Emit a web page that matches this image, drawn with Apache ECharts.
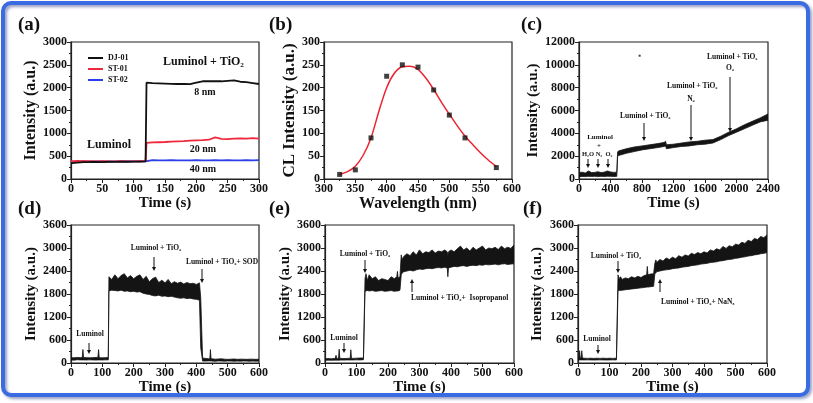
<!DOCTYPE html>
<html><head><meta charset="utf-8">
<script src="https://cdn.jsdelivr.net/npm/echarts@6/dist/echarts.min.js"></script>
<style>html,body{margin:0;padding:0;background:#fff}#c{width:813px;height:403px}</style>
</head><body><div id="c"></div>
<script>
// ---------- DATA ----------
// (a)
const aTime = [0,5,10,15,20,30,40,50,60,70,80,90,100,110,119,120.5,130,140,150,160,170,180,190,200,210,220,230,240,250,260,270,280,290,300];
const aDJ01 = [340,355,360,365,370,372,375,370,378,375,380,378,382,380,385,2110,2100,2095,2090,2085,2080,2080,2078,2110,2140,2140,2145,2140,2150,2160,2130,2120,2100,2080];
const aST01 = [390,392,395,393,390,392,388,390,385,388,390,388,386,389,392,790,800,805,810,820,825,830,840,845,850,860,910,880,875,885,890,885,895,885];
const aST02 = [380,382,385,383,385,380,383,385,382,384,386,383,385,384,386,410,412,408,410,412,410,408,410,412,410,409,411,410,412,410,409,411,410,412];
const aNames = ['DJ-01','ST-01','ST-02'];
// (b)
const bWave = [325,350,375,400,425,450,475,500,525,575];
const bCL = [10,20,90,225,250,245,195,140,90,25];
const bFitWave = [325,337.5,350,362.5,375,387.5,400,412.5,425,437.5,450,462.5,475,487.5,500,512.5,525,537.5,550,562.5,575];
const bFitCL = [10,16,28,52,90,148,200,232,246,247,240,221,196,168,142,117,94,75,57,41,27];
// (c)
const cTime = [0,40,80,120,160,200,240,280,320,360,400,440,480,490,500,600,700,800,900,1000,1080,1100,1110,1200,1300,1400,1500,1600,1700,1800,1900,2000,2100,2200,2300,2400];
const cLow  = [200,220,210,230,220,240,210,230,220,240,230,220,230,1950,2050,2250,2400,2550,2650,2750,2850,2900,2650,2750,2850,2900,3000,3050,3150,3450,3800,4100,4400,4700,5000,5150];
const cHigh = [550,600,520,700,560,580,640,560,600,700,620,580,600,2350,2450,2650,2800,2900,3000,3100,3200,3300,3000,3050,3150,3250,3300,3400,3450,3750,4100,4400,4750,5050,5350,5700];
const cStray = [[770,10800]];
// (d)
const dTime = [0,10,20,30,36,38,40,50,60,70,80,86,88,90,100,110,119,121,130,140,150,160,170,180,190,200,210,220,230,240,250,260,270,280,290,300,310,320,330,340,350,360,370,380,390,400,410,414,420,430,440,443,445,447,450,460,470,480,490,500,510,520,530,540,550,560,570,580,590,600];
const dLow  = [80,75,85,80,80,80,80,78,82,80,76,80,80,80,78,82,80,1880,1900,1890,1880,1900,1870,1880,1860,1870,1850,1860,1820,1800,1790,1760,1750,1770,1740,1750,1730,1740,1720,1700,1690,1700,1680,1690,1670,1660,1640,400,50,50,55,55,55,55,50,45,55,50,48,52,50,45,50,48,52,50,46,50,48,50];
const dHigh = [140,135,145,140,150,350,145,140,135,140,145,150,350,140,135,140,145,2250,2180,2300,2200,2280,2330,2220,2280,2200,2260,2300,2180,2260,2120,2200,2240,2100,2160,2090,2180,2070,2120,2080,2110,2060,2100,2070,2080,2050,2090,1700,130,120,110,110,350,110,110,100,105,110,100,95,100,105,95,100,100,95,100,100,95,100];
// (e)
const eTime = [0,10,20,30,33,35,37,40,43,45,47,50,60,70,80,82,84,90,100,110,122,
  127,130,135,140,150,160,170,180,190,200,210,220,228,230,232,238,
  242,245,250,260,270,280,290,300,310,320,330,340,350,360,370,380,388,390,392,400,410,420,430,440,450,460,470,480,490,500,510,520,530,540,550,560,570,580,590,600];
const eLow  = [70,75,72,75,75,75,75,75,75,75,75,78,76,80,78,78,78,80,82,80,85,
  1870,1880,1890,1880,1890,1870,1880,1890,1870,1880,1890,1870,1880,1880,1880,1900,
  2300,2350,2380,2400,2420,2400,2430,2450,2440,2460,2470,2460,2480,2490,2480,2500,2480,2250,2480,2500,2520,2510,2530,2540,2520,2540,2550,2540,2560,2550,2570,2560,2570,2580,2560,2580,2590,2570,2580,2590];
const eHigh = [110,115,110,120,130,200,125,120,130,360,125,120,115,120,125,345,125,120,125,130,130,
  2200,2330,2150,2300,2200,2250,2150,2200,2180,2150,2250,2200,2250,2390,2220,2250,
  2820,2700,2780,2850,2800,2900,2820,2950,2850,2900,2880,2950,2870,2920,2900,2950,2900,2800,2900,2950,2900,2980,3050,2950,3000,2920,3020,2950,3000,3050,2950,3000,2980,3020,2960,3050,2980,3020,2990,3080];
// (f)
const fTime = [0,3,5,7,10,12,14,20,30,40,50,60,70,80,90,100,110,122,
  127,130,135,140,150,160,170,180,190,200,210,218,220,222,230,240,
  244,247,250,260,270,280,290,300,310,320,330,340,350,360,370,380,390,400,410,420,430,440,450,460,470,480,490,500,510,520,530,540,550,560,570,580,590,600];
const fLow  = [80,80,80,80,80,80,80,80,82,80,78,80,82,80,78,80,82,80,
  1880,1900,1890,1900,1910,1920,1930,1940,1950,1960,1970,1980,1980,1980,1990,2000,
  2330,2350,2380,2400,2420,2430,2440,2460,2470,2480,2500,2510,2520,2540,2550,2560,2580,2590,2600,2620,2630,2640,2660,2670,2690,2700,2710,2730,2740,2760,2770,2790,2800,2820,2830,2850,2860,2880];
const fHigh = [120,130,320,130,140,320,130,125,120,125,120,125,120,125,120,125,120,125,
  2300,2200,2250,2180,2220,2200,2250,2220,2260,2230,2280,2300,2520,2300,2320,2330,
  2600,2690,2620,2700,2660,2740,2700,2760,2720,2800,2760,2820,2790,2860,2830,2880,2850,2900,2870,2950,2920,2980,2950,3040,2990,3060,3030,3100,3080,3150,3120,3200,3170,3250,3220,3300,3270,3340];
// axis ranges [min, max, interval]
const aX = [0,300,50],   aY = [0,3000,500];
const bX = [300,600,50], bY = [0,300,50];
const cX = [0,2400,400], cY = [0,12000,2000];
const dX = [0,600,100],  dY = [0,3600,600];
const eX = [0,600,100],  eY = [0,3600,600];
const fX = [0,600,100],  fY = [0,3600,600];

// ---------- CHART ----------
const FF = '"Liberation Serif","Times New Roman",serif';
const chart = echarts.init(document.getElementById('c'));
const grids = [
  {left:71, top:42, width:188, height:137},
  {left:324,top:42, width:188, height:137},
  {left:579,top:42, width:189, height:137},
  {left:71, top:225,width:188, height:138},
  {left:325,top:225,width:189, height:138},
  {left:578,top:225,width:189, height:138}
].map(g => Object.assign({show:true, borderColor:'#222', borderWidth:1.2, backgroundColor:'transparent'}, g));

function xAx(i, r, name, gap, fs) {
  return {gridIndex:i, type:'value', min:r[0], max:r[1], interval:r[2],
    axisLine:{show:true, onZero:false, lineStyle:{color:'#222', width:1.2}},
    axisTick:{show:true, length:4, lineStyle:{color:'#222', width:1}},
    minorTick:{show:true, splitNumber:2, length:2, lineStyle:{color:'#222', width:1}},
    splitLine:{show:false},
    axisLabel:{fontFamily:FF, fontWeight:'bold', fontSize:12, color:'#111', margin:4, formatter: v => String(v)},
    name:name, nameLocation:'middle', nameGap:gap,
    nameTextStyle:{fontFamily:FF, fontWeight:'bold', fontSize:fs, color:'#111'}};
}
function yAx(i, r, name, gap, fs) {
  const o = xAx(i, r, name, gap, fs);
  o.nameRotate = 90;
  return o;
}
const xAxis = [
  xAx(0,aX,'Time (s)',14,15), xAx(1,bX,'Wavelength (nm)',14,16), xAx(2,cX,'Time (s)',14,15),
  xAx(3,dX,'Time (s)',15,15), xAx(4,eX,'Time (s)',15,15), xAx(5,fX,'Time (s)',15,15)
];
const yAxis = [
  yAx(0,aY,'Intensity (a.u.)',31,16), yAx(1,bY,'CL Intensity (a.u.)',25,17), yAx(2,cY,'Intensity (a.u.)',35,15),
  yAx(3,dY,'Intensity (a.u.)',32,15), yAx(4,eY,'Intensity (a.u.)',32,15), yAx(5,fY,'Intensity (a.u.)',33,15)
];

const zip = (X, Y) => X.map((x, i) => [x, Y[i]]);
function band(idx, T, L, H) {
  return {type:'custom', xAxisIndex:idx, yAxisIndex:idx, clip:true, silent:true,
    data: T.map((t, i) => [t, L[i], H[i]]), encode:{x:0, y:[1,2]},
    renderItem: function (params, api) {
      if (params.dataIndex !== 0) return null;
      const pts = [];
      for (let i = 0; i < T.length; i++) pts.push(api.coord([T[i], H[i]]));
      for (let i = T.length - 1; i >= 0; i--) pts.push(api.coord([T[i], L[i]]));
      return {type:'polygon', shape:{points:pts}, style:{fill:'#141414', stroke:'#141414', lineWidth:0.8}};
    }};
}
const lineS = (name, data, color) => ({name, type:'line', xAxisIndex:0, yAxisIndex:0, data, showSymbol:false,
  lineStyle:{color, width:1.8}, itemStyle:{color}, silent:true});

const series = [
  lineS(aNames[2], zip(aTime, aST02), '#2a3fe6'),
  lineS(aNames[1], zip(aTime, aST01), '#f0283c'),
  lineS(aNames[0], zip(aTime, aDJ01), '#111111'),
  {type:'line', xAxisIndex:1, yAxisIndex:1, data:zip(bFitWave, bFitCL), smooth:0.3, showSymbol:false,
    lineStyle:{color:'#ec2532', width:1.5}, silent:true},
  {type:'scatter', xAxisIndex:1, yAxisIndex:1, data:zip(bWave, bCL), symbol:'rect', symbolSize:5,
    itemStyle:{color:'#111'}, silent:true, z:5},
  band(2, cTime, cLow, cHigh),
  {type:'scatter', xAxisIndex:2, yAxisIndex:2, data:cStray, symbol:'rect', symbolSize:2, itemStyle:{color:'#111'}, silent:true},
  band(3, dTime, dLow, dHigh),
  band(4, eTime, eLow, eHigh),
  band(5, fTime, fLow, fHigh)
];

// ---------- annotations ----------
const G = [];
function txt(s, x, y, size, align) {
  G.push({type:'text', x:x, y:y, silent:true, z:50,
    style:{text:s, font:'bold ' + size + 'px ' + FF, fill:'#111', align:align || 'center', verticalAlign:'middle'}});
}
function arrow(x, y1, y2) { // tail y1 -> head y2
  const d = y2 > y1 ? 1 : -1;
  G.push({type:'line', silent:true, z:50, shape:{x1:x, y1:y1, x2:x, y2:y2 - d*3}, style:{stroke:'#111', lineWidth:1}});
  G.push({type:'polygon', silent:true, z:50, shape:{points:[[x-2,y2-d*4],[x+2,y2-d*4],[x,y2]]}, style:{fill:'#111'}});
}
// panel labels
[['(a)',18,25],['(b)',269,25],['(c)',521,25],['(d)',18,209],['(e)',269,209],['(f)',523,209]]
  .forEach(p => txt(p[0], p[1], p[2], 19, 'left'));
// (a)
txt('Luminol + TiO\u2082', 163, 62, 12, 'left');
txt('8 nm', 205, 92, 10);
txt('20 nm', 203, 149, 10);
txt('40 nm', 203, 169, 10);
txt('Luminol', 87, 145, 12, 'left');
// (c)
txt('Luminol + TiO\u2082', 620, 116, 7.5, 'left'); arrow(644, 123, 141);
txt('Luminol + TiO\u2082', 667, 86, 7.5, 'left'); txt('N\u2082', 691, 99, 7.5); arrow(691, 105, 141);
txt('Luminol + TiO\u2082', 707, 57, 7.5, 'left'); txt('O\u2082', 730, 68, 7.5); arrow(730, 77, 132);
txt('Luminol', 600, 137, 7, 'center'); txt('+', 599, 146, 7);
txt('H\u2082O', 588, 154, 6.5); txt('N\u2082', 599, 154, 6.5); txt('O\u2082', 609, 154, 6.5);
arrow(588, 159, 168); arrow(598, 159, 168); arrow(608, 159, 168);
// (d)
txt('Luminol', 90, 334, 7.5); arrow(89, 343, 354);
txt('Luminol + TiO\u2082', 156, 248, 7.5); arrow(154, 257, 271);
txt('Luminol + TiO\u2082+ SOD', 222, 262, 7.5); arrow(202, 269, 283);
// (e)
txt('Luminol', 344, 338, 7.5); arrow(344, 343, 353);
txt('Luminol + TiO\u2082', 365, 254, 7.5); arrow(365, 260, 273);
txt('Luminol + TiO\u2082+  Isopropanol', 411, 298, 7.5, 'left'); arrow(412, 292, 279);
// (f)
txt('Luminol', 597, 339, 7.5); arrow(598, 345, 354);
txt('Luminol + TiO\u2082', 616, 256, 7.5); arrow(618, 261, 273);
txt('Luminol + TiO\u2082+ NaN\u2083', 661, 302, 7.5, 'left'); arrow(660, 292, 279);
// blue frame
G.push({type:'rect', silent:true, z:100, shape:{x:3, y:3, width:805, height:392, r:8},
  style:{fill:'none', stroke:'#3a6be0', lineWidth:4, shadowBlur:3, shadowOffsetX:2, shadowOffsetY:2, shadowColor:'rgba(20,40,120,0.45)'}});

chart.setOption({
  animation:false,
  backgroundColor:'#fff',
  grid:grids, xAxis:xAxis, yAxis:yAxis, series:series,
  legend:{data:aNames, left:83, top:48, orient:'vertical', icon:'rect', itemWidth:15, itemHeight:2, itemGap:1,
    selectedMode:false,
    textStyle:{fontFamily:FF, fontWeight:'bold', fontSize:8, color:'#111', lineHeight:10, padding:[0,0,0,0]}},
  graphic:G
});
</script></body></html>
